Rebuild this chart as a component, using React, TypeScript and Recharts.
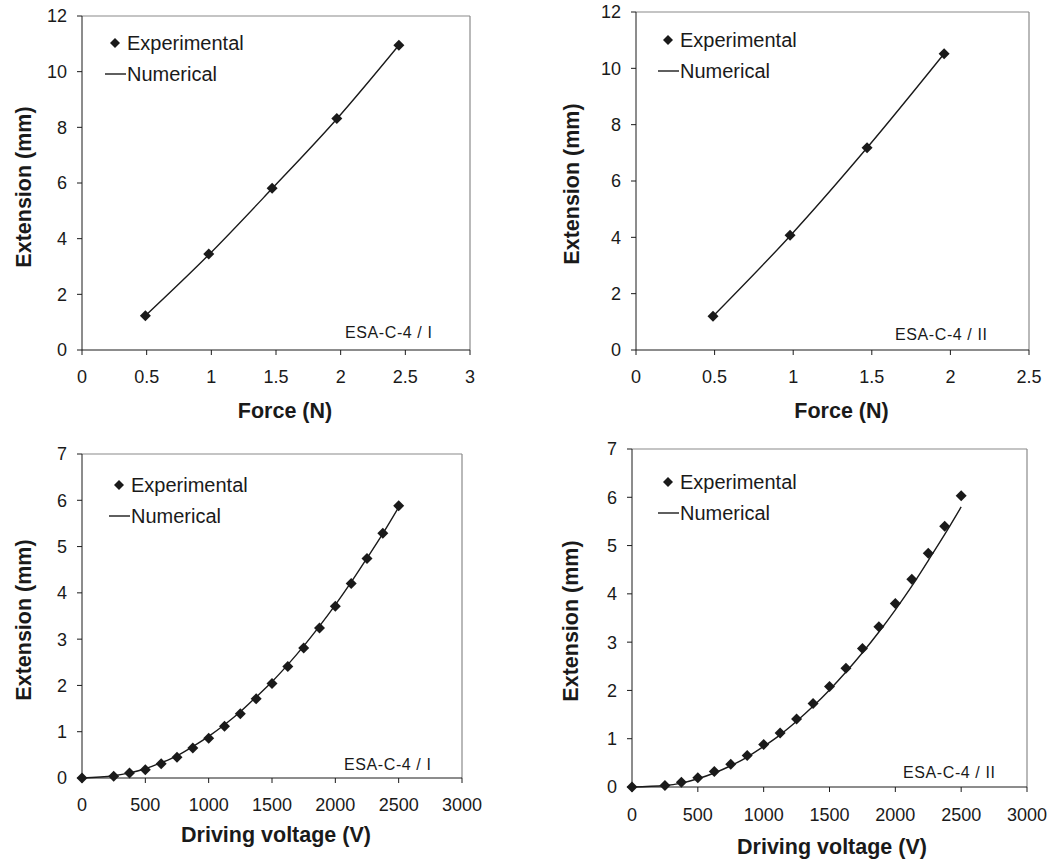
import React from 'react';
import { LineChart, Line, XAxis, YAxis, Legend, Label, ReferenceLine } from 'recharts';

const forceI = [0.49, 0.98, 1.47, 1.97, 2.45];
const expForceI = [1.23, 3.45, 5.81, 8.32, 10.95];
const numForceI = [1.23, 3.42, 5.8, 8.3, 10.95];

const forceII = [0.49, 0.98, 1.47, 1.96];
const expForceII = [1.2, 4.07, 7.18, 10.52];
const numForceII = [1.2, 4.05, 7.18, 10.52];

const voltage = [0, 250, 375, 500, 625, 750, 875, 1000, 1125, 1250, 1375, 1500, 1625, 1750, 1875, 2000, 2125, 2250, 2375, 2500];
const expVoltI = [0, 0.04, 0.11, 0.18, 0.31, 0.45, 0.65, 0.86, 1.12, 1.39, 1.71, 2.04, 2.41, 2.81, 3.24, 3.71, 4.2, 4.74, 5.29, 5.88];
const numVoltI = [0, 0.05, 0.11, 0.2, 0.33, 0.48, 0.68, 0.9, 1.15, 1.43, 1.75, 2.08, 2.45, 2.85, 3.28, 3.74, 4.23, 4.75, 5.28, 5.85];
const expVoltII = [0, 0.03, 0.1, 0.19, 0.32, 0.47, 0.65, 0.88, 1.12, 1.41, 1.73, 2.08, 2.46, 2.87, 3.32, 3.8, 4.3, 4.84, 5.4, 6.03];
const numVoltII = [0, 0.03, 0.08, 0.17, 0.29, 0.44, 0.62, 0.84, 1.08, 1.36, 1.67, 2.01, 2.38, 2.78, 3.21, 3.67, 4.16, 4.69, 5.23, 5.8];

const forceTicksI = [0, 0.5, 1, 1.5, 2, 2.5, 3];
const forceTicksII = [0, 0.5, 1, 1.5, 2, 2.5];
const voltageTicks = [0, 500, 1000, 1500, 2000, 2500, 3000];
const extForceTicks = [0, 2, 4, 6, 8, 10, 12];
const extVoltTicks = [0, 1, 2, 3, 4, 5, 6, 7];

const FONT = '"Liberation Sans", Arial, sans-serif';
const INK = '#1a1a1a';

const rows = (xs: number[], exp: number[], num: number[]) =>
  xs.map((x, i) => ({ x, exp: exp[i], num: num[i] }));

// top panels are a bit taller than their row so the x title is not clipped
const panels = [
  {
    left: 0, top: 0, width: 530, height: 440,
    margin: { top: 16, right: 60, bottom: 50, left: 32 },
    data: rows(forceI, expForceI, numForceI),
    xTicks: forceTicksI, yTicks: extForceTicks, xTickMargin: 15,
    xTitle: 'Force (N)', tag: 'ESA-C-4 / I',
    xTitleGap: 61, xTitleShift: 9, yTitleGap: 58, yTitleShift: 4,
    legend: { left: 104, top: 27.5 }, tagPos: { left: 345, top: 324 },
  },
  {
    left: 530, top: 0, width: 529, height: 440,
    margin: { top: 12, right: 30, bottom: 50, left: 56 },
    data: rows(forceII, expForceII, numForceII),
    xTicks: forceTicksII, yTicks: extForceTicks, xTickMargin: 15,
    xTitle: 'Force (N)', tag: 'ESA-C-4 / II',
    xTitleGap: 61, xTitleShift: 9, yTitleGap: 64, yTitleShift: 3,
    legend: { left: 127, top: 24.5 }, tagPos: { left: 365, top: 326 },
  },
  {
    left: 0, top: 420, width: 530, height: 443,
    margin: { top: 34, right: 68, bottom: 45, left: 32 },
    data: rows(voltage, expVoltI, numVoltI),
    xTicks: voltageTicks, yTicks: extVoltTicks, xTickMargin: 15,
    xTitle: 'Driving voltage (V)', tag: 'ESA-C-4 / I',
    xTitleGap: 57, xTitleShift: 4, yTitleGap: 58, yTitleShift: 4,
    legend: { left: 108, top: 49.5 }, tagPos: { left: 344, top: 336 },
  },
  {
    left: 530, top: 420, width: 529, height: 443,
    margin: { top: 29, right: 32, bottom: 36, left: 52 },
    data: rows(voltage, expVoltII, numVoltII),
    xTicks: voltageTicks, yTicks: extVoltTicks, xTickMargin: 16,
    xTitle: 'Driving voltage (V)', tag: 'ESA-C-4 / II',
    xTitleGap: 60, xTitleShift: 2.5, yTitleGap: 61, yTitleShift: 3,
    legend: { left: 127, top: 46.5 }, tagPos: { left: 373, top: 344 },
  },
];

type Panel = (typeof panels)[number];

const Diamond = (props: any) => {
  const { cx, cy, index } = props;
  if (cx == null || cy == null) return <g key={index} />;
  const r = 5.5;
  return (
    <polygon
      key={index}
      points={`${cx},${cy - r} ${cx + r},${cy} ${cx},${cy + r} ${cx - r},${cy}`}
      fill={INK}
    />
  );
};

const LegendBox = () => (
  <div style={{ fontFamily: FONT, fontSize: 20, color: INK, lineHeight: '31px', whiteSpace: 'nowrap' }}>
    <div style={{ display: 'flex', alignItems: 'center', height: 31 }}>
      <svg width={10} height={10} style={{ marginLeft: 6, marginRight: 7 }}>
        <polygon points="5,0 10,5 5,10 0,5" fill={INK} />
      </svg>
      <span>Experimental</span>
    </div>
    <div style={{ display: 'flex', alignItems: 'center', height: 31 }}>
      <svg width={22} height={4} style={{ marginLeft: 1 }}>
        <line x1={0} y1={2} x2={21} y2={2} stroke={INK} strokeWidth={1.4} />
      </svg>
      <span>Numerical</span>
    </div>
  </div>
);

function ChartPanel({ p }: { p: Panel }) {
  const xMax = p.xTicks[p.xTicks.length - 1];
  const yMax = p.yTicks[p.yTicks.length - 1];
  const tick = { fill: INK, fontSize: 18, fontFamily: FONT };

  const xTitle = (props: any) => {
    const vb = props.viewBox;
    return (
      <text
        x={vb.x + vb.width / 2 + p.xTitleShift}
        y={vb.y + p.xTitleGap}
        textAnchor="middle"
        dominantBaseline="central"
        fontFamily={FONT}
        fontSize={21.5}
        fontWeight="bold"
        fill={INK}
      >
        {p.xTitle}
      </text>
    );
  };

  const yTitle = (props: any) => {
    const vb = props.viewBox;
    const cx = vb.x + vb.width - p.yTitleGap;
    const cy = vb.y + vb.height / 2 + p.yTitleShift;
    return (
      <text
        x={cx}
        y={cy}
        transform={`rotate(-90, ${cx}, ${cy})`}
        textAnchor="middle"
        dominantBaseline="central"
        fontFamily={FONT}
        fontSize={21.5}
        fontWeight="bold"
        fill={INK}
      >
        Extension (mm)
      </text>
    );
  };

  return (
    <div style={{ position: 'absolute', left: p.left, top: p.top, width: p.width, height: p.height }}>
      <LineChart width={p.width} height={p.height} data={p.data} margin={p.margin}>
        <XAxis
          dataKey="x"
          type="number"
          domain={[0, xMax]}
          ticks={p.xTicks}
          interval={0}
          height={40}
          tickSize={5}
          tickMargin={p.xTickMargin}
          stroke={INK}
          tick={tick}
        >
          <Label content={xTitle} />
        </XAxis>
        <YAxis
          type="number"
          domain={[0, yMax]}
          ticks={p.yTicks}
          interval={0}
          width={50}
          tickSize={5}
          tickMargin={10}
          stroke={INK}
          tick={tick}
        >
          <Label content={yTitle} />
        </YAxis>
        <ReferenceLine y={yMax} stroke="#8a8a8a" strokeWidth={1.2} />
        <ReferenceLine x={xMax} stroke="#8a8a8a" strokeWidth={1.2} />
        <Legend
          layout="vertical"
          align="center"
          verticalAlign="middle"
          wrapperStyle={{ left: p.legend.left, top: p.legend.top, width: 180 }}
          content={() => <LegendBox />}
        />
        <Line
          dataKey="num"
          name="Numerical"
          type="monotone"
          stroke={INK}
          strokeWidth={1.4}
          dot={false}
          activeDot={false}
          isAnimationActive={false}
        />
        <Line
          dataKey="exp"
          name="Experimental"
          stroke="none"
          dot={Diamond}
          activeDot={false}
          isAnimationActive={false}
        />
      </LineChart>
      <div
        style={{
          position: 'absolute',
          left: p.tagPos.left,
          top: p.tagPos.top,
          fontFamily: FONT,
          fontSize: 16,
          letterSpacing: 0.6,
          lineHeight: '18px',
          color: INK,
          whiteSpace: 'nowrap',
        }}
      >
        {p.tag}
      </div>
    </div>
  );
}

export default function App() {
  return (
    <div style={{ position: 'absolute', left: 0, top: 0, width: 1059, height: 863, background: '#fff' }}>
      {panels.map((p, i) => (
        <ChartPanel key={i} p={p} />
      ))}
    </div>
  );
}
